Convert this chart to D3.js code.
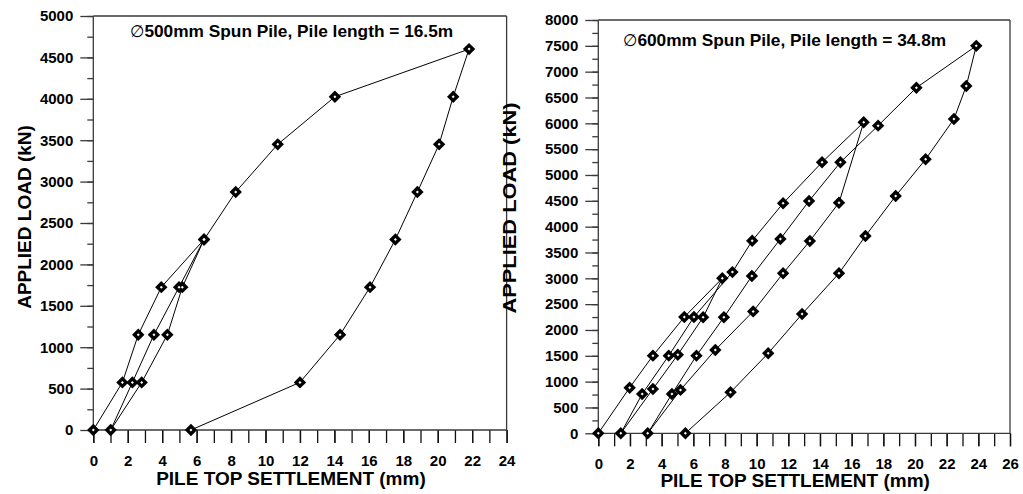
<!DOCTYPE html>
<html>
<head>
<meta charset="utf-8">
<script src="https://cdn.jsdelivr.net/npm/d3@7"></script>
<style>
  html, body { margin: 0; padding: 0; background: #fff; }
  svg { display: block; font-family: "Liberation Sans", Arial, sans-serif; }
</style>
</head>
<body>
<svg id="chart" width="1023" height="494"></svg>
<script>
// ---------- DATA ----------
const leftTitle = "500mm Spun Pile, Pile length = 16.5m";
const rightTitle = "600mm Spun Pile, Pile length = 34.8m";
const xAxisTitle = "PILE TOP SETTLEMENT (mm)";
const yAxisTitle = "APPLIED LOAD (kN)";

// Left chart: pile top settlement (mm) and applied load (kN), in test order
const leftSettlement = [0, 1.69, 2.61, 3.95, 6.43, 5.17, 4.30, 2.81, 1.01, 2.27, 3.52, 4.98, 6.43, 8.27, 10.71, 14.03, 21.82, 20.90, 20.08, 18.82, 17.54, 16.07, 14.33, 12.00, 5.67];
const leftLoad       = [0, 575, 1150, 1725, 2300, 1725, 1150, 575, 0, 575, 1150, 1725, 2300, 2875, 3450, 4025, 4600, 4025, 3450, 2875, 2300, 1725, 1150, 575, 0];

// Right chart
const rightSettlement = [0, 1.98, 3.45, 5.43, 7.83, 6.62, 5.02, 3.45, 1.42, 2.77, 4.45, 6.04, 8.47, 9.72, 11.67, 14.13, 16.76, 15.20, 13.36, 11.67, 9.78, 7.39, 5.19, 3.12, 4.65, 6.20, 7.93, 9.70, 11.50, 13.31, 15.29, 17.67, 20.09, 23.87, 23.24, 22.46, 20.67, 18.78, 16.87, 15.20, 12.87, 10.73, 8.35, 5.50];
const rightLoad       = [0, 883, 1503, 2250, 3000, 2245, 1520, 858, 0, 760, 1503, 2250, 3120, 3728, 4452, 5246, 6020, 4464, 3723, 3097, 2360, 1613, 840, 0, 760, 1503, 2245, 3045, 3761, 4497, 5246, 5955, 6690, 7500, 6723, 6084, 5304, 4594, 3819, 3097, 2309, 1549, 794, 0];

// Tick values
const leftXTicks  = [0, 2, 4, 6, 8, 10, 12, 14, 16, 18, 20, 22, 24];
const leftYTicks  = [0, 500, 1000, 1500, 2000, 2500, 3000, 3500, 4000, 4500, 5000];
const rightXTicks = [0, 2, 4, 6, 8, 10, 12, 14, 16, 18, 20, 22, 24, 26];
const rightYTicks = [0, 500, 1000, 1500, 2000, 2500, 3000, 3500, 4000, 4500, 5000, 5500, 6000, 6500, 7000, 7500, 8000];

// ---------- DRAW ----------
const svg = d3.select("#chart");
svg.append("rect").attr("width", 1023).attr("height", 494).attr("fill", "#fff");

const AXIS = "#3a3a3a";
const FONT = '"Liberation Sans", Arial, sans-serif';

function panel(cfg) {
  const g = svg.append("g");
  const x = d3.scaleLinear().domain(cfg.xDomain).range([cfg.x0, cfg.x1]);
  const y = d3.scaleLinear().domain(cfg.yDomain).range([cfg.y0, cfg.y1]);

  // minor x ticks (every 1 mm)
  const xMinor = d3.range(cfg.xDomain[0], cfg.xDomain[1] + 0.001, 1);
  g.append("g").attr("transform", `translate(0,${cfg.y0})`)
    .call(d3.axisBottom(x).tickValues(xMinor).tickSize(13).tickFormat(""))
    .call(a => a.select(".domain").remove())
    .call(a => a.selectAll("line").attr("stroke", "#111").attr("stroke-width", 1.3));

  // major x ticks + labels
  const xa = g.append("g").attr("transform", `translate(0,${cfg.y0})`)
    .call(d3.axisBottom(x).tickValues(cfg.xTicks).tickSize(13).tickPadding(12).tickFormat(d3.format("d")));
  xa.select(".domain").remove();
  xa.selectAll("line").attr("stroke", "#111").attr("stroke-width", 1.3);
  xa.selectAll("text").attr("font-size", 15).attr("font-weight", "bold").attr("fill", "#000")
    .attr("font-family", FONT);

  // minor y ticks (every 250)
  const yMinor = d3.range(cfg.yDomain[0], cfg.yDomain[1] + 1, 250);
  g.append("g").attr("transform", `translate(${cfg.x0},0)`)
    .call(d3.axisLeft(y).tickValues(yMinor).tickSize(6).tickFormat(""))
    .call(a => a.select(".domain").remove())
    .call(a => a.selectAll("line").attr("stroke", AXIS).attr("stroke-width", 1.3));

  // major y ticks + labels
  const ya = g.append("g").attr("transform", `translate(${cfg.x0},0)`)
    .call(d3.axisLeft(y).tickValues(cfg.yTicks).tickSize(13).tickPadding(7).tickFormat(d3.format("d")));
  ya.select(".domain").remove();
  ya.selectAll("line").attr("stroke", AXIS).attr("stroke-width", 1.3);
  ya.selectAll("text").attr("font-size", 15).attr("font-weight", "bold").attr("fill", "#000")
    .attr("font-family", FONT);

  // frame: left, bottom, top, right
  const frame = g.append("g").attr("fill", "none").attr("stroke", AXIS).attr("stroke-width", 1.3);
  frame.append("line").attr("x1", cfg.x0).attr("x2", cfg.x0).attr("y1", cfg.y1).attr("y2", cfg.y0);
  frame.append("line").attr("x1", cfg.x0).attr("x2", cfg.x1).attr("y1", cfg.y0).attr("y2", cfg.y0);
  frame.append("line").attr("x1", cfg.x0).attr("x2", cfg.x1).attr("y1", cfg.y1).attr("y2", cfg.y1);
  frame.append("line").attr("x1", cfg.x1).attr("x2", cfg.x1).attr("y1", cfg.y1).attr("y2", cfg.y0);

  // data line
  const pts = cfg.sx.map((s, i) => [s, cfg.ly[i]]);
  g.append("path").datum(pts)
    .attr("fill", "none").attr("stroke", "#000").attr("stroke-width", 1)
    .attr("d", d3.line().x(d => x(d[0])).y(d => y(d[1])));

  // markers: black diamond with small white centre
  const diamond = r => `M0,${-r}L${r},0L0,${r}L${-r},0Z`;
  const mk = g.append("g");
  mk.selectAll("path.m").data(pts).join("path").attr("class", "m")
    .attr("transform", d => `translate(${x(d[0])},${y(d[1])})`)
    .attr("d", diamond(6.2)).attr("fill", "#000");
  mk.selectAll("path.c").data(pts).join("path").attr("class", "c")
    .attr("transform", d => `translate(${x(d[0])},${y(d[1])})`)
    .attr("d", diamond(1.5)).attr("fill", "#fff");

  // chart title
  const t = g.append("text").attr("x", cfg.titleX).attr("y", cfg.titleY)
    .attr("font-size", 17.3).attr("font-weight", "bold").attr("fill", "#000").attr("font-family", FONT);
  t.append("tspan").attr("font-weight", "normal").attr("font-family", '"DejaVu Sans", sans-serif').attr("font-size", 16.5).text("\u2205");
  t.append("tspan").text(cfg.title);

  // x axis title
  g.append("text").attr("x", (cfg.x0 + cfg.x1) / 2 + cfg.xtDx).attr("y", cfg.xtY)
    .attr("text-anchor", "middle").attr("font-size", 19).attr("font-weight", "bold")
    .attr("font-family", FONT).text(xAxisTitle);

  // y axis title
  g.append("text")
    .attr("transform", `translate(${cfg.ytX},${cfg.ytY}) rotate(-90) scale(${cfg.ytSx},1)`)
    .attr("text-anchor", "middle").attr("font-size", cfg.ytFs).attr("font-weight", "bold")
    .attr("font-family", FONT).text(yAxisTitle);
}

panel({
  xDomain: [0, 24], yDomain: [0, 5000],
  x0: 93.3, x1: 506.6, y0: 430, y1: 16,
  xTicks: leftXTicks, yTicks: leftYTicks,
  sx: leftSettlement, ly: leftLoad,
  title: leftTitle, titleX: 130, titleY: 37,
  xtDx: -9, xtY: 485,
  ytX: 31, ytY: 217, ytFs: 19, ytSx: 1
});

panel({
  xDomain: [0, 26], yDomain: [0, 8000],
  x0: 598.3, x1: 1010, y0: 433.3, y1: 20,
  xTicks: rightXTicks, yTicks: rightYTicks,
  sx: rightSettlement, ly: rightLoad,
  title: rightTitle, titleX: 623, titleY: 45.5,
  xtDx: -9, xtY: 487,
  ytX: 516, ytY: 208, ytFs: 19, ytSx: 1.15
});
</script>
</body>
</html>
